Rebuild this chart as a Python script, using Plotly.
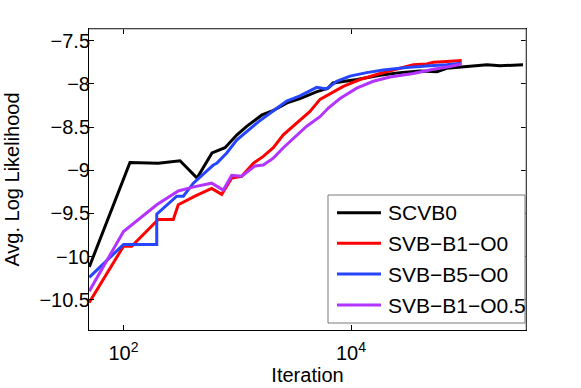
import plotly.graph_objects as go

# ---- data ----
scvb0_x = [50, 114, 202, 314, 443, 600, 780, 995, 1218, 1651, 2062, 2737, 3562,
           5024, 6278, 6946, 11290, 17990, 26970, 40440, 57020, 69390, 104700,
           156900, 204100, 325200]
scvb0_y = [-10.12, -8.91, -8.92, -8.89, -9.09, -8.80, -8.74, -8.59, -8.49, -8.36,
           -8.31, -8.22, -8.17, -8.09, -8.05, -7.99, -7.95, -7.90, -7.87, -7.85,
           -7.86, -7.82, -7.80, -7.78, -7.79, -7.78]

svb_b1_o0_x = [50, 100, 118, 202, 274, 303, 425, 596, 730, 894, 1094, 1384, 1694,
               2075, 2540, 3332, 4361, 5340, 6500, 8557, 12000, 17990, 26970,
               35300, 46300, 52900, 69390, 94000]
svb_b1_o0_y = [-10.53, -9.88, -9.88, -9.57, -9.57, -9.40, -9.30, -9.21, -9.28,
               -9.09, -9.07, -8.92, -8.84, -8.74, -8.59, -8.45, -8.32, -8.18,
               -8.12, -8.03, -7.95, -7.88, -7.82, -7.78, -7.77, -7.75, -7.74, -7.73]

svb_b5_o0_x = [50, 100, 196, 196, 294, 336, 411, 616, 660, 808, 989, 1211, 1531,
               1941, 2147, 2721, 3562, 4994, 6115, 7486, 9800, 13740, 19230,
               30880, 49500, 69390, 94000]
svb_b5_o0_y = [-10.24, -9.86, -9.86, -9.51, -9.30, -9.30, -9.15, -8.94, -8.92,
               -8.80, -8.65, -8.55, -8.44, -8.34, -8.30, -8.20, -8.14, -8.04,
               -8.06, -7.97, -7.91, -7.87, -7.84, -7.81, -7.79, -7.78, -7.76]

svb_b1_o05_x = [50, 100, 196, 303, 425, 596, 754, 894, 1094, 1432, 1694, 2075,
                2540, 3332, 4079, 5340, 6316, 8003, 11220, 15710, 22030, 35300,
                52900, 74190, 94000]
svb_b1_o05_y = [-10.40, -9.71, -9.40, -9.24, -9.19, -9.15, -9.23, -9.06, -9.07,
                -8.95, -8.94, -8.86, -8.74, -8.59, -8.49, -8.38, -8.28, -8.17,
                -8.05, -7.97, -7.92, -7.88, -7.83, -7.80, -7.77]

series_names = ["SCVB0", "SVB\u2212B1\u2212O0", "SVB\u2212B5\u2212O0", "SVB\u2212B1\u2212O0.5"]
series_colors = ["#000000", "#ff0000", "#2645ff", "#b333ff"]

x_tick_vals = [1e2, 1e4]
x_tick_text = ["10<sup>2</sup>", "10<sup>4</sup>"]
y_tick_vals = [-10.5, -10, -9.5, -9, -8.5, -8, -7.5]
y_tick_text = ["\u221210.5", "\u221210", "\u22129.5", "\u22129", "\u22128.5", "\u22128", "\u22127.5"]

FONT = "Liberation Sans, Arial, sans-serif"
W, H = 581, 388
ML, MR, MT, MB = 89, 55, 29, 58
PW, PH = W - ML - MR, H - MT - MB


def px(xp):
    return (xp - ML) / PW


def py(yp):
    return (H - MB - yp) / PH


fig = go.Figure()
all_x = [scvb0_x, svb_b1_o0_x, svb_b5_o0_x, svb_b1_o05_x]
all_y = [scvb0_y, svb_b1_o0_y, svb_b5_o0_y, svb_b1_o05_y]
for i, (xs, ys) in enumerate(zip(all_x, all_y)):
    fig.add_trace(go.Scatter(x=xs, y=ys, mode="lines", name=series_names[i],
                             line=dict(color=series_colors[i], width=3),
                             showlegend=False, hoverinfo="skip"))

shapes = [
    # top and right frame (lighter, as in the reference)
    dict(type="line", xref="paper", yref="paper", x0=0, x1=1, y0=1, y1=1,
         line=dict(color="#8a8a8a", width=1), layer="above"),
    dict(type="line", xref="paper", yref="paper", x0=1, x1=1, y0=0, y1=1,
         line=dict(color="#8a8a8a", width=1), layer="above"),
    # legend box
    dict(type="rect", xref="paper", yref="paper", x0=px(328), x1=px(525),
         y0=py(323), y1=py(195), fillcolor="white",
         line=dict(color="#7a7a7a", width=1), layer="above"),
]
annotations = []
row_y = [212.7, 243.3, 274, 305]
for i, name in enumerate(series_names):
    shapes.append(dict(type="line", xref="paper", yref="paper",
                       x0=px(337), x1=px(381), y0=py(row_y[i]), y1=py(row_y[i]),
                       line=dict(color=series_colors[i], width=3), layer="above"))
    annotations.append(dict(xref="paper", yref="paper", x=px(386), y=py(row_y[i]),
                            xanchor="left", yanchor="middle", text=name,
                            showarrow=False, font=dict(size=21, family=FONT)))

fig.update_layout(
    width=W, height=H,
    margin=dict(l=ML, r=MR, t=MT, b=MB, autoexpand=False),
    paper_bgcolor="white", plot_bgcolor="white",
    font=dict(family=FONT, size=20, color="black"),
    showlegend=False, hovermode=False,
    shapes=shapes, annotations=annotations,
)
fig.update_xaxes(type="log", range=[1.6967, 5.5385], automargin=False,
                 tickvals=x_tick_vals, ticktext=x_tick_text,
                 ticks="inside", ticklen=5, tickcolor="black",
                 showline=True, linecolor="black", linewidth=1, mirror="ticks",
                 showgrid=False, zeroline=False,
                 ticklabelstandoff=5,
                 title=dict(text="Iteration", standoff=1, font=dict(size=20)),
                 tickfont=dict(size=20))
fig.update_yaxes(range=[-10.85, -7.365], automargin=False,
                 tickvals=y_tick_vals, ticktext=y_tick_text,
                 ticks="inside", ticklen=5, tickcolor="black",
                 showline=True, linecolor="black", linewidth=1, mirror="ticks",
                 showgrid=False, zeroline=False,
                 ticklabelstandoff=-6,
                 title=dict(text="Avg. Log Likelihood", standoff=14, font=dict(size=20)),
                 tickfont=dict(size=20))

fig.write_html(
    "out.html",
    config={"displayModeBar": False, "staticPlot": True},
    post_script="document.body.style.margin='0';document.body.style.overflow='hidden';",
)
